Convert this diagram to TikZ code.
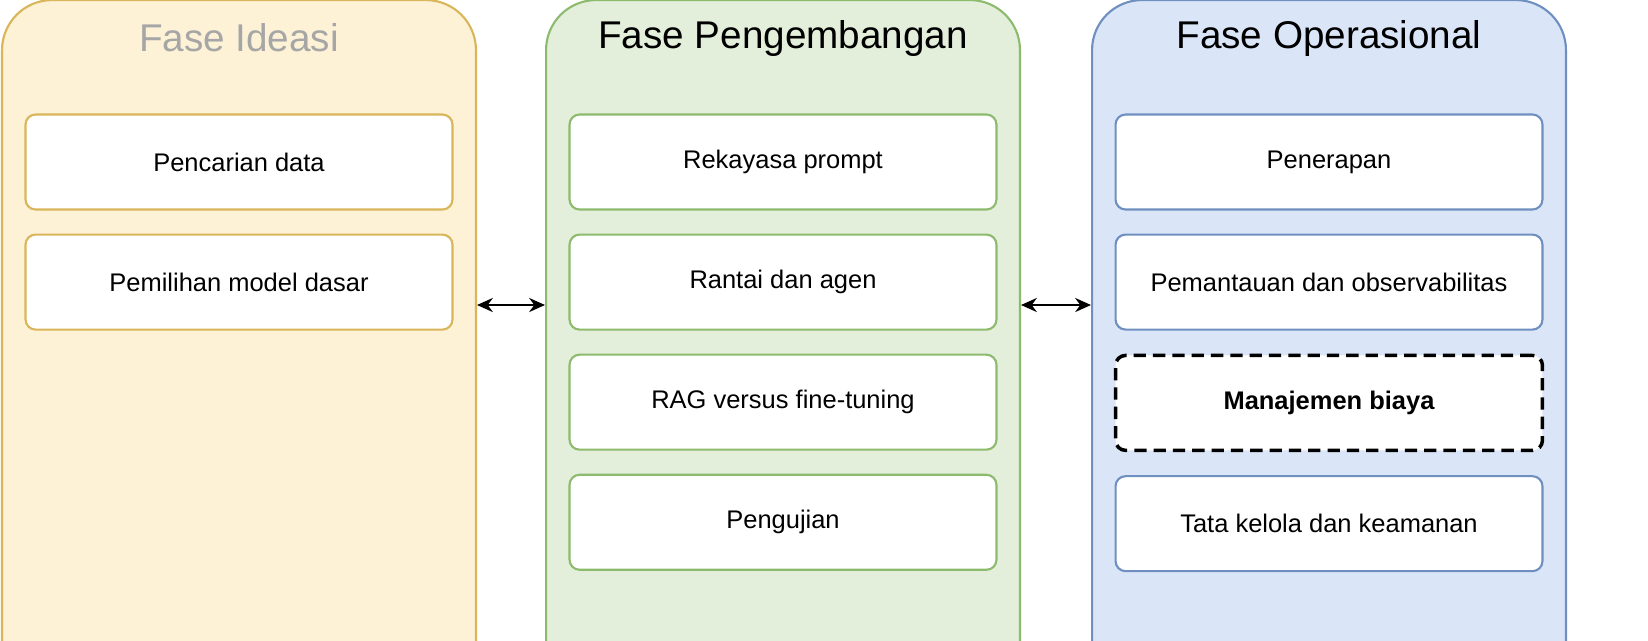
\documentclass[tikz,border=0pt]{standalone}
\usepackage{fontspec}
\setmainfont{Liberation Sans}
\usetikzlibrary{positioning, arrows.meta}
\definecolor{ylwfill}{HTML}{FDF1D6}
\definecolor{ylwline}{HTML}{D9B65A}
\definecolor{grnfill}{HTML}{E3EFDA}
\definecolor{grnline}{HTML}{8DBB6E}
\definecolor{blufill}{HTML}{DAE6F8}
\definecolor{bluline}{HTML}{6F8FC0}
\begin{document}
\begin{tikzpicture}[
        x=0.02cm, y=-0.02cm,
        >={Stealth[length=9pt, width=8pt]},
        phase/.style={rectangle, draw, line width=1.2pt, rounded corners=1cm,
                minimum width=9.48cm, minimum height=14cm, anchor=north},
        tbox/.style={rectangle, draw, line width=1.2pt, rounded corners=0.2cm, fill=white,
                minimum width=8.54cm, minimum height=1.9cm, font=\fontsize{14.5}{17}\selectfont},
        title/.style={font=\fontsize{22}{26}\selectfont},
        arrow/.style={<->, line width=1.3pt},
        ]
        \useasboundingbox (0,0) rectangle (1648,640);

        % panels
        \node[phase, fill=ylwfill, draw=ylwline] (ideasi) at (239,-1) {};
        \node[phase, fill=grnfill, draw=grnline] (pengembangan) at (783,-1) {};
        \node[phase, fill=blufill, draw=bluline] (operasional) at (1329,-1) {};

        \node[title, text=black!35] (t1) at (239,38) {Fase Ideasi};
        \node[title] (t2) at (783,38) {Fase Pengembangan};
        \node[title] (t3) at (1329,38) {Fase Operasional};

        % ideasi
        \node[tbox, draw=ylwline] (i1) at (239,162) {Pencarian data};
        \node[tbox, draw=ylwline, below=0.46cm of i1] (i2) {Pemilihan model dasar};

        % pengembangan
        \node[tbox, draw=grnline] (p1) at (783,162) {Rekayasa prompt};
        \node[tbox, draw=grnline, below=0.46cm of p1] (p2) {Rantai dan agen};
        \node[tbox, draw=grnline, below=0.46cm of p2] (p3) {RAG versus fine-tuning};
        \node[tbox, draw=grnline, below=0.46cm of p3] (p4) {Pengujian};

        % operasional
        \node[tbox, draw=bluline] (o1) at (1329,162) {Penerapan};
        \node[tbox, draw=bluline, below=0.46cm of o1] (o2) {Pemantauan dan observabilitas};
        \node[tbox, draw=black, dash pattern=on 7pt off 4pt, line width=2pt,
                below=0.46cm of o2, font=\fontsize{14.5}{17}\selectfont\bfseries] (o3) {Manajemen biaya};
        \node[tbox, draw=bluline, below=0.46cm of o3] (o4) {Tata kelola dan keamanan};

        \coordinate (a1) at (ideasi.east |- 0,305);
        \coordinate (b1) at (pengembangan.west |- 0,305);
        \coordinate (a2) at (pengembangan.east |- 0,305);
        \coordinate (b2) at (operasional.west |- 0,305);
        \draw[arrow] (a1) -- (b1);
        \draw[arrow] (a2) -- (b2);

\end{tikzpicture}
\end{document}
